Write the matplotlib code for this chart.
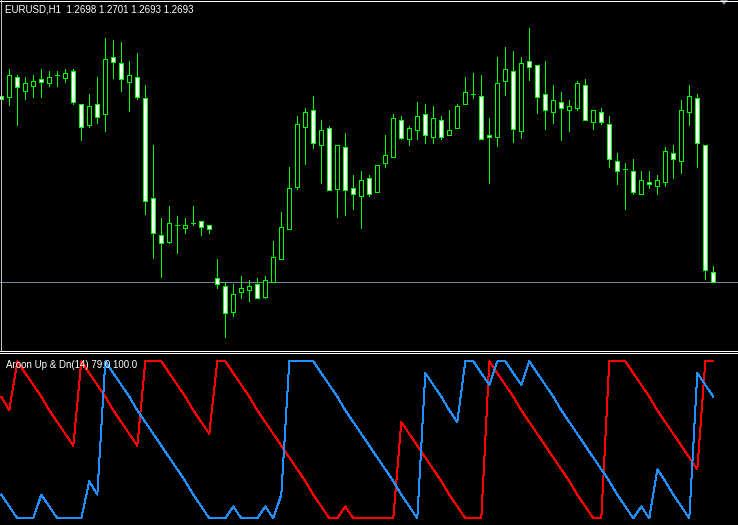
import matplotlib
matplotlib.use('Agg')
import matplotlib.pyplot as plt
from matplotlib.patches import Rectangle, Polygon
from matplotlib.lines import Line2D

# EURUSD H1, 90 bars
opens = [1.27862, 1.27858, 1.27955, 1.27888, 1.27913, 1.27945, 1.27925, 1.27967, 1.27953, 1.27985,
         1.27822, 1.27717, 1.27822, 1.2777, 1.28055, 1.28025, 1.27933, 1.27955, 1.2785, 1.2735,
         1.27165, 1.27133, 1.27215, 1.27203, 1.27225, 1.27235, 1.27215, 1.2695, 1.2691, 1.26783,
         1.2688, 1.2689, 1.2692, 1.26858, 1.2693, 1.27045, 1.27195, 1.27408, 1.27708, 1.2779,
         1.27615, 1.277, 1.27398, 1.27605, 1.274, 1.2736, 1.2745, 1.2738, 1.27525, 1.27555,
         1.2774, 1.27645, 1.2769, 1.2777, 1.27655, 1.2774, 1.27665, 1.277, 1.2782, 1.2787,
         1.2786, 1.27665, 1.27655, 1.27935, 1.27985, 1.27688, 1.28035, 1.28015, 1.2787, 1.2778,
         1.2783, 1.2779, 1.278, 1.27915, 1.2773, 1.2778, 1.2772, 1.27535, 1.27495, 1.27485,
         1.2737, 1.2743, 1.2741, 1.2743, 1.27575, 1.27535, 1.2778, 1.2785, 1.27615, 1.2698]
highs = [1.27967, 1.27997, 1.27967, 1.27955, 1.27967, 1.27997, 1.27987, 1.27987, 1.27997, 1.27997,
         1.27822, 1.27872, 1.27957, 1.28152, 1.28142, 1.28132, 1.28035, 1.28077, 1.27917, 1.27617,
         1.2725, 1.27312, 1.27262, 1.27252, 1.27312, 1.27235, 1.27215, 1.27047, 1.2693, 1.2692,
         1.2696, 1.2694, 1.2695, 1.2696, 1.27137, 1.27282, 1.27507, 1.27762, 1.27802, 1.27862,
         1.27742, 1.2771, 1.27615, 1.27677, 1.27467, 1.27487, 1.27467, 1.27515, 1.27667, 1.27772,
         1.27762, 1.2771, 1.27832, 1.27822, 1.27812, 1.27762, 1.27792, 1.27822, 1.27957, 1.27977,
         1.27967, 1.2775, 1.28055, 1.28105, 1.28085, 1.28055, 1.28202, 1.28015, 1.28035, 1.27915,
         1.2788, 1.2784, 1.27935, 1.27945, 1.2779, 1.278, 1.2776, 1.27575, 1.27525, 1.27545,
         1.27485, 1.27485, 1.27465, 1.27605, 1.27615, 1.2784, 1.27915, 1.2787, 1.27615, 1.2701]
lows = [1.27849, 1.27817, 1.27717, 1.27847, 1.27858, 1.27858, 1.27913, 1.27913, 1.27933, 1.2782,
        1.27642, 1.27708, 1.27728, 1.27688, 1.27953, 1.27888, 1.27788, 1.27847, 1.2727, 1.27053,
        1.26958, 1.27125, 1.27075, 1.27175, 1.27215, 1.27165, 1.27175, 1.269, 1.26655, 1.26763,
        1.2685, 1.26838, 1.2685, 1.2685, 1.2693, 1.27045, 1.27195, 1.27398, 1.27523, 1.27603,
        1.27428, 1.2739, 1.27258, 1.27268, 1.27298, 1.27203, 1.2736, 1.2738, 1.27505, 1.27555,
        1.27645, 1.27615, 1.27645, 1.27625, 1.27625, 1.27645, 1.27665, 1.277, 1.2782, 1.2785,
        1.27645, 1.27428, 1.27613, 1.27868, 1.27633, 1.27653, 1.27942, 1.27778, 1.27698, 1.27728,
        1.27643, 1.27688, 1.2779, 1.2774, 1.27698, 1.2772, 1.27505, 1.2742, 1.27298, 1.2737,
        1.2737, 1.274, 1.2737, 1.2741, 1.2745, 1.27475, 1.27718, 1.27505, 1.26948, 1.2693]
closes = [1.27849, 1.27967, 1.27905, 1.27925, 1.27937, 1.27933, 1.27955, 1.27967, 1.27977, 1.2783,
          1.27708, 1.2781, 1.27758, 1.28045, 1.28033, 1.27945, 1.27965, 1.27858, 1.27338, 1.27175,
          1.27125, 1.27225, 1.27215, 1.27215, 1.27225, 1.27205, 1.27195, 1.2692, 1.26775, 1.2687,
          1.269, 1.2691, 1.2685, 1.2694, 1.27055, 1.27205, 1.274, 1.2772, 1.2778, 1.27625,
          1.2769, 1.2739, 1.27615, 1.2739, 1.2737, 1.2744, 1.2737, 1.27515, 1.27565, 1.2775,
          1.27653, 1.277, 1.2776, 1.27665, 1.2775, 1.27655, 1.2769, 1.2781, 1.2788, 1.2787,
          1.27645, 1.27655, 1.27925, 1.27995, 1.27698, 1.28025, 1.28005, 1.27858, 1.2779, 1.2784,
          1.278, 1.2781, 1.27925, 1.2774, 1.2779, 1.2773, 1.27545, 1.27485, 1.27495, 1.2738,
          1.2744, 1.2742, 1.2744, 1.27585, 1.27545, 1.2779, 1.2786, 1.27625, 1.2699, 1.2693]

# Aroon(14)
aroon_up = [21, 14, 7, 7, 7, 21, 14, 7, 7, 7,
            7, 29, 21, 100, 93, 86, 79, 71, 64, 57,
            50, 43, 36, 29, 21, 14, 7, 7, 7, 14,
            7, 7, 7, 14, 7, 21, 100, 100, 100, 100,
            93, 86, 79, 71, 64, 57, 50, 43, 36, 29,
            21, 14, 7, 93, 86, 79, 71, 64, 100, 100,
            93, 86, 100, 100, 93, 86, 100, 93, 86, 79,
            71, 64, 57, 50, 43, 36, 29, 21, 14, 7,
            14, 7, 36, 29, 21, 14, 7, 93, 86, 79]
aroon_dn = [79, 71, 100, 93, 86, 79, 71, 64, 57, 50,
            100, 93, 86, 79, 71, 64, 57, 50, 100, 100,
            100, 93, 86, 79, 71, 64, 57, 100, 100, 93,
            86, 79, 71, 64, 57, 50, 43, 36, 29, 21,
            14, 7, 7, 14, 7, 7, 7, 7, 7, 7,
            64, 57, 50, 43, 36, 29, 21, 14, 7, 7,
            7, 100, 93, 86, 79, 71, 64, 57, 50, 43,
            36, 29, 21, 14, 7, 7, 100, 100, 100, 93,
            86, 79, 71, 64, 57, 50, 43, 36, 100, 100]

symbol = 'EURUSD,H1'
bid = closes[-1]

W, H = 738, 525
PX = 0.72  # one pixel in points at 100 dpi
fig = plt.figure(figsize=(W / 100.0, H / 100.0), dpi=100, facecolor='black')

# pixel rows of the two windows
main_top, main_bot = 0, 350
ind_top, ind_bot = 353, 525

ax = fig.add_axes([0, 1 - main_bot / float(H), 1, (main_bot - main_top) / float(H)])
ax2 = fig.add_axes([0, 0, 1, (ind_bot - ind_top) / float(H)])
for a in (ax, ax2):
    a.set_facecolor('black')
    a.set_axis_off()
    a.set_xlim(-1.3 / 8, (W - 1.3) / 8)

# price scale: 2 px per pip, bid line at row 282.3
ax.set_ylim(bid - (main_bot - 282.3) * 0.00005, bid + 282.3 * 0.00005)

green = '#00ff00'
for i in range(len(opens)):
    o, h, l, c = opens[i], highs[i], lows[i], closes[i]
    ax.plot([i, i], [l, h], color=green, lw=PX, antialiased=False, zorder=2)
    fc = 'black' if c > o else 'white'
    ax.add_patch(Rectangle((i - 0.25, min(o, c)), 0.5, abs(c - o), facecolor=fc,
                           edgecolor=green, lw=PX, antialiased=False, zorder=3))

ax.axhline(bid, color='#778899', lw=PX, antialiased=False, zorder=1)
ax.text(0.007, 0.986, '%s  %.4f %.4f %.4f %.4f' % (symbol, opens[-1], highs[-1], lows[-1], closes[-1]),
        transform=ax.transAxes, color='white', fontsize=7, family='Liberation Sans',
        va='top', ha='left')

# indicator window: 100 at row 361.3, 7 at row 518.3
ppu = (518.3 - 361.3) / 93.0
ax2.set_ylim(7 - (ind_bot - 518.3) / ppu, 100 + (361.3 - ind_top) / ppu)
xs = range(len(aroon_up))
ax2.plot(xs, aroon_dn, color='#ff0000', lw=PX, antialiased=False)
ax2.plot(xs, aroon_up, color='#1e90ff', lw=PX, antialiased=False)
ax2.text(0.008, 0.962, 'Aroon Up & Dn(14) %.1f %.1f' % (aroon_up[-1], aroon_dn[-1]),
         transform=ax2.transAxes, color='white', fontsize=7, family='Liberation Sans',
         va='top', ha='left')

# window separators and frame
for yy in (350.5, 352.5):
    fig.add_artist(Line2D([0, 1], [1 - yy / H, 1 - yy / H], color='white', lw=PX,
                          antialiased=False))
fig.add_artist(Line2D([0, 1], [1 - 0.5 / H, 1 - 0.5 / H], color='white', lw=PX,
                      antialiased=False))
fig.add_artist(Line2D([0.5 / W, 0.5 / W], [1, 1 - 350.0 / H], color='#c0c0c0', lw=PX,
                      antialiased=False))
fig.add_artist(Polygon([[720.0 / W, 1], [728.0 / W, 1], [724.0 / W, 1 - 5.0 / H]], closed=True,
                       facecolor='#778899', edgecolor='none'))

fig.savefig('out.png', dpi=100, facecolor='black')
